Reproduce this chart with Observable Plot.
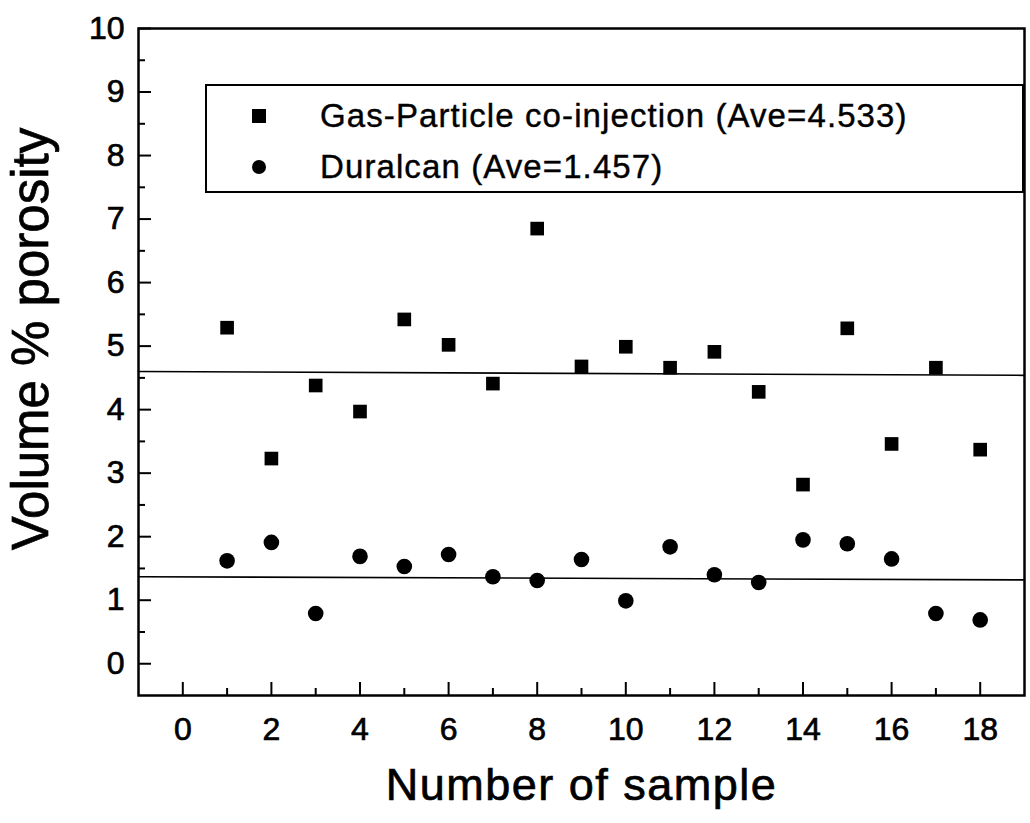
<!DOCTYPE html>
<html><head><meta charset="utf-8">
<script src="https://cdn.jsdelivr.net/npm/d3@7"></script>
<script src="https://cdn.jsdelivr.net/npm/@observablehq/plot@0.6"></script>
<style>
body{margin:0;background:#fff;}
#wrap{position:relative;width:1030px;height:823px;font-family:"Liberation Sans",Arial,sans-serif;}
#wrap svg text{stroke:#000;stroke-width:0.7px;}
#legend{position:absolute;left:205px;top:84px;width:819px;height:109px;border:2px solid #000;box-sizing:border-box;}
.row{position:absolute;left:0;height:40px;display:flex;align-items:center;font-size:33px;letter-spacing:1.1px;color:#000;white-space:nowrap;-webkit-text-stroke:0.4px #000;}
.mk{display:inline-block;width:14px;height:14px;background:#000;margin-left:45px;margin-right:54px;}
.mk.c{border-radius:50%;}
</style></head>
<body>
<div id="wrap"></div>
<script>
const sampleNumbers = [1,2,3,4,5,6,7,8,9,10,11,12,13,14,15,16,17,18];
const gasParticle = [5.29,3.23,4.38,3.97,5.42,5.02,4.41,6.85,4.68,4.99,4.66,4.91,4.28,2.82,5.28,3.46,4.66,3.37];
const duralcan = [1.62,1.91,0.79,1.69,1.53,1.72,1.37,1.31,1.64,0.99,1.84,1.40,1.28,1.95,1.89,1.65,0.79,0.69];
const avgLineX = [-1, 19];
const gasAvgLine = [4.60, 4.54];
const duralcanAvgLine = [1.37, 1.32];
const xTicksMajor = [0,2,4,6,8,10,12,14,16,18];
const xTicksMinor = [1,3,5,7,9,11,13,15,17];
const yTicksMajor = [0,1,2,3,4,5,6,7,8,9,10];
const yTicksMinor = [0.5,1.5,2.5,3.5,4.5,5.5,6.5,7.5,8.5,9.5];
const seriesNames = ["Gas-Particle co-injection (Ave=4.533)", "Duralcan (Ave=1.457)"];
const xTitle = "Number of sample";
const yTitle = "Volume % porosity";

const gasData = sampleNumbers.map((s,i)=>({x:s,y:gasParticle[i]}));
const durData = sampleNumbers.map((s,i)=>({x:s,y:duralcan[i]}));
const gasLine = avgLineX.map((x,i)=>({x,y:gasAvgLine[i]}));
const durLine = avgLineX.map((x,i)=>({x,y:duralcanAvgLine[i]}));
const fmt = d => String(d);

const chart = Plot.plot({
  width:1030, height:823,
  marginLeft:138, marginRight:6, marginTop:28, marginBottom:128,
  x:{domain:[-1,19]},
  y:{domain:[-0.5,10]},
  style:{fontFamily:"'Liberation Sans', Arial, sans-serif", color:"#000", background:"#fff"},
  marks:[
    Plot.axisX(xTicksMajor,{tickSize:-13, fill:"none", strokeWidth:2, label:null}),
    Plot.axisX(xTicksMinor,{tickSize:-7, fill:"none", strokeWidth:2, label:null}),
    Plot.axisX(xTicksMajor,{tickSize:0, tickPadding:22, fontSize:32, tickFormat:fmt, label:null}),
    Plot.axisY(yTicksMajor,{tickSize:-13, fill:"none", strokeWidth:2, label:null}),
    Plot.axisY(yTicksMinor,{tickSize:-7, fill:"none", strokeWidth:2, label:null}),
    Plot.axisY(yTicksMajor,{tickSize:0, tickPadding:14, fontSize:32, tickFormat:fmt, label:null}),
    Plot.frame({strokeWidth:2.5}),
    Plot.line(gasLine,{x:"x",y:"y",stroke:"#000",strokeWidth:1.6}),
    Plot.line(durLine,{x:"x",y:"y",stroke:"#000",strokeWidth:1.6}),
    Plot.dot(gasData,{x:"x",y:"y",symbol:"square",r:7.7,fill:"#000",stroke:"none"}),
    Plot.dot(durData,{x:"x",y:"y",symbol:"circle",r:7.8,fill:"#000",stroke:"none"}),
    Plot.text([xTitle],{frameAnchor:"bottom", dy:90, fontSize:45, textAnchor:"middle", lineAnchor:"middle"}),
    Plot.text([yTitle],{frameAnchor:"left", rotate:-90, dx:-107, dy:-23, fontSize:51, textAnchor:"middle", lineAnchor:"middle"})
  ]
});
d3.select(chart).selectAll("text").filter(function(){return this.textContent===xTitle;}).style("letter-spacing","1.5px");

const wrap = document.getElementById("wrap");
wrap.appendChild(chart);
const legend = d3.select(wrap).append("div").attr("id","legend");
const rowTops = [10, 61];
seriesNames.forEach((name,i)=>{
  const row = legend.append("div").attr("class","row").style("top", rowTops[i]+"px");
  row.append("span").attr("class", i===0 ? "mk" : "mk c");
  row.append("span").text(name);
});
</script>
</body></html>
